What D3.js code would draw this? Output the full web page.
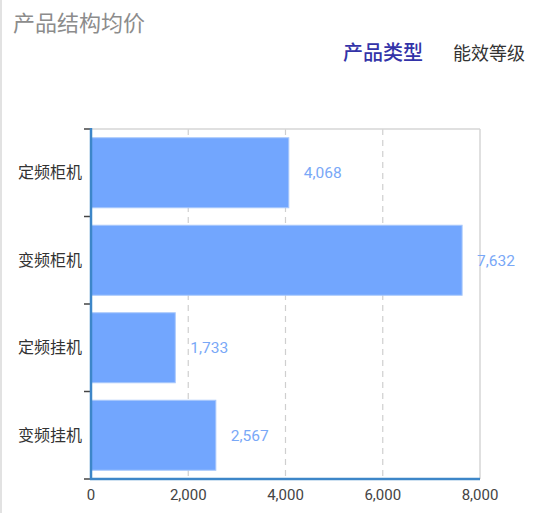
<!DOCTYPE html>
<html><head><meta charset="utf-8">
<script src="https://cdn.jsdelivr.net/npm/d3@7"></script>
<style>
html,body{margin:0;padding:0;background:#fff;}
svg{display:block;font-family:Roboto,"Noto Sans CJK SC",sans-serif;}
</style></head>
<body><svg id="c" width="550" height="513"></svg>
<script>
const title = "产品结构均价";
const legendItems = ["产品类型", "能效等级"];
const categories = ["定频柜机", "变频柜机", "定频挂机", "变频挂机"];
const values = [4068, 7632, 1733, 2567];
const xTicks = [0, 2000, 4000, 6000, 8000];

const svg = d3.select("#c");
const M = {left: 91, right: 480, top: 129, bottom: 479};
const x = d3.scaleLinear().domain([0, 8000]).range([M.left, M.right]);
const y = d3.scaleBand().domain(categories).range([M.top, M.bottom]).paddingInner(0.2).paddingOuter(0.1);

// page left border
svg.append("line").attr("x1",1).attr("x2",1).attr("y1",0).attr("y2",513).attr("stroke","#e2e2e2").attr("stroke-width",2);

svg.append("text").attr("x",13).attr("y",31).attr("font-size",22).attr("fill","#8c8c8c")
  .attr("font-family","'Noto Sans CJK SC',sans-serif").text(title);

svg.append("text").attr("x",343).attr("y",60).attr("font-size",20).attr("fill","#3333a8").attr("font-weight",500)
  .attr("font-family","'Noto Sans CJK SC',sans-serif").text(legendItems[0]);
svg.append("text").attr("x",453).attr("y",60).attr("font-size",18).attr("fill","#333")
  .attr("font-family","'Noto Sans CJK SC',sans-serif").text(legendItems[1]);

// grid
const grid = svg.append("g");
grid.selectAll("line.g").data(xTicks.slice(1,-1)).join("line")
  .attr("x1",d=>x(d)).attr("x2",d=>x(d)).attr("y1",M.top).attr("y2",M.bottom)
  .attr("stroke","#cfcfcf").attr("stroke-width",1.2).attr("stroke-dasharray","6,5");
grid.append("line").attr("x1",M.left).attr("x2",M.right).attr("y1",M.top).attr("y2",M.top).attr("stroke","#d6d6d6").attr("stroke-width",1.5);
grid.append("line").attr("x1",M.right).attr("x2",M.right).attr("y1",M.top).attr("y2",M.bottom).attr("stroke","#d6d6d6").attr("stroke-width",1.5);

// bars
svg.selectAll("rect.bar").data(values).join("rect")
  .attr("x",x(0)).attr("y",(d,i)=>y(categories[i]))
  .attr("width",d=>x(d)-x(0)).attr("height",y.bandwidth())
  .attr("fill","#72a6fe").attr("stroke","#a9c8fb").attr("stroke-width",1);

// value labels
svg.selectAll("text.val").data(values).join("text")
  .attr("x",d=>x(d)+15).attr("y",(d,i)=>y(categories[i])+y.bandwidth()/2)
  .attr("dy","0.35em").attr("font-size",15.5).attr("fill","#79a8f7")
  .text(d=>d3.format(",")(d));

// left axis
const ya = svg.append("g").attr("transform",`translate(${M.left},0)`);
const bounds = d3.range(categories.length+1).map(i=>M.top + i*(M.bottom-M.top)/categories.length);
ya.selectAll("line.t").data(bounds).join("line").attr("x1",-7).attr("x2",0).attr("y1",d=>d).attr("y2",d=>d).attr("stroke","#444").attr("stroke-width",1.5);
ya.selectAll("text").data(categories).join("text")
  .attr("x",-9).attr("y",d=>y(d)+y.bandwidth()/2).attr("dy","0.35em").attr("text-anchor","end")
  .attr("font-size",16).attr("fill","#333").attr("font-family","'Noto Sans CJK SC',sans-serif").text(d=>d);

// bottom axis
const xa = svg.append("g").attr("transform",`translate(0,${M.bottom})`);
xa.selectAll("text").data(xTicks).join("text")
  .attr("x",d=>x(d)).attr("y",21).attr("text-anchor","middle").attr("font-size",15).attr("fill","#444")
  .text(d=>d3.format(",")(d));

svg.append("line").attr("x1",M.left-1).attr("x2",M.right).attr("y1",M.bottom).attr("y2",M.bottom).attr("stroke","#3d86c8").attr("stroke-width",2.5);
svg.append("line").attr("x1",M.left).attr("x2",M.left).attr("y1",M.top-1).attr("y2",M.bottom+1).attr("stroke","#3d86c8").attr("stroke-width",2.5);
</script></body></html>
